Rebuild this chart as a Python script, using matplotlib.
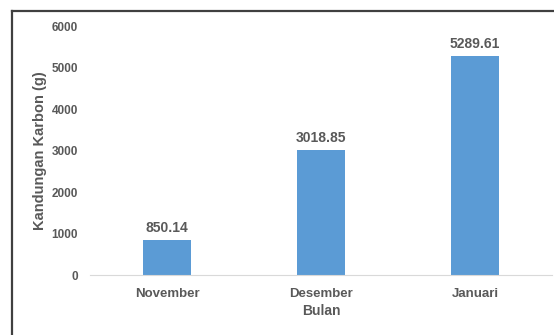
import matplotlib
matplotlib.use("Agg")
import matplotlib.pyplot as plt
from matplotlib.lines import Line2D

months = ["November", "Desember", "Januari"]
carbon = [850.14, 3018.85, 5289.61]
yticks = [0, 1000, 2000, 3000, 4000, 5000, 6000]

plt.rcParams["font.family"] = ["Liberation Sans", "DejaVu Sans"]
text_color = "#595959"

fig = plt.figure(figsize=(5.54, 3.35), dpi=100)
ax = fig.add_axes([0.1625, 0.179, 0.834, 0.743])

bars = ax.bar(months, carbon, width=0.31, color="#5B9BD5")
for b, v in zip(bars, carbon):
    ax.text(b.get_x() + b.get_width() / 2, v + 110, f"{v:.2f}",
            ha="center", va="bottom", fontsize=10, fontweight="bold",
            color=text_color)

ax.set_ylim(0, 6000)
ax.set_xlim(-0.5, 2.5)
ax.set_yticks(yticks)
ax.tick_params(axis="both", length=0, colors=text_color)
ax.tick_params(axis="y", labelsize=8.5, pad=8.6)
ax.tick_params(axis="x", labelsize=9.5, pad=9)
for lbl in ax.get_xticklabels() + ax.get_yticklabels():
    lbl.set_fontweight("bold")

for side in ["top", "right", "left"]:
    ax.spines[side].set_visible(False)
ax.spines["bottom"].set_color("#D9D9D9")

ax.set_ylabel("Kandungan Karbon (g)", fontsize=10.5, fontweight="bold",
              color=text_color, labelpad=3)
ax.set_xlabel("Bulan", fontsize=10, fontweight="bold", color=text_color,
              labelpad=3)

# frame around the chart area (left and top edges)
fig.add_artist(Line2D([0.022, 0.022], [0.0, 0.967], transform=fig.transFigure,
                      color="#404040", lw=1.6))
fig.add_artist(Line2D([0.022, 1.0], [0.967, 0.967], transform=fig.transFigure,
                      color="#404040", lw=1.6))

fig.savefig("out.png", dpi=100)
